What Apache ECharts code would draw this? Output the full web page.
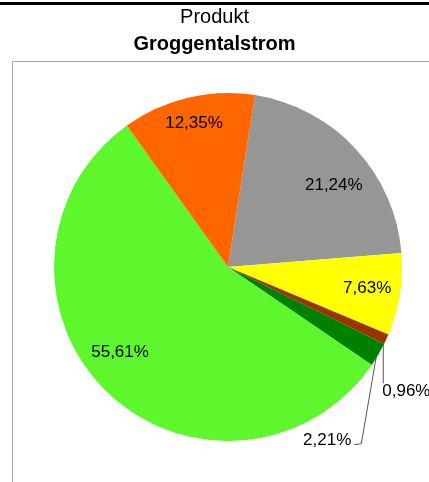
<!DOCTYPE html>
<html>
<head>
<meta charset="utf-8">
<script src="https://cdn.jsdelivr.net/npm/echarts@6/dist/echarts.min.js"></script>
<style>
html, body { margin: 0; padding: 0; background: #fff; }
#chart { width: 429px; height: 482px; }
</style>
</head>
<body>
<div id="chart"></div>
<script>
// Anteile (Prozent), im Uhrzeigersinn ab dem grauen Segment
var categories = ['Grau', 'Gelb', 'Braun', 'Dunkelgrün', 'Hellgrün', 'Orange'];
var values = [21.24, 7.63, 0.96, 2.21, 55.61, 12.35];
var colors = ['#969696', '#ffff00', '#993300', '#008000', '#5ef72e', '#ff6600'];
var outsideIdx = [2, 3];

var FONT = '"Liberation Sans", Arial, sans-serif';

function fmt(v) {
    return v.toFixed(2).replace('.', ',') + '%';
}

function initChart() {
    var chart = echarts.init(document.getElementById('chart'));

    // kleine Korrekturen der Innenbeschriftung (wie Excel "beste Position")
    var innerShift = { 0: [1, 16], 5: [-1, -5], 1: [-2, -1], 4: [-8, -17] };

    var option = {
        animation: false,
        title: [
            { text: 'Produkt', left: 'center', top: 7, padding: 0,
              textStyle: { fontFamily: FONT, fontSize: 20, fontWeight: 'normal', color: '#000', lineHeight: 20 } },
            { text: 'Groggentalstrom', left: 'center', top: 34, padding: 0,
              textStyle: { fontFamily: FONT, fontSize: 20, fontWeight: 'bold', color: '#000', lineHeight: 20 } }
        ],
        graphic: [
            { type: 'rect', z: 0, shape: { x: 0, y: 2, width: 429, height: 3 }, style: { fill: '#000' } },
            { type: 'rect', z: 0, shape: { x: 12.5, y: 61.5, width: 480, height: 480 },
              style: { fill: 'none', stroke: '#a6a6a6', lineWidth: 1 } }
        ],
        series: [
            {
                type: 'pie',
                center: [228, 267],
                radius: 174,
                startAngle: 81.1,
                clockwise: true,
                silent: true,
                avoidLabelOverlap: false,
                itemStyle: { borderWidth: 0 },
                label: {
                    show: true,
                    position: 'outside',
                    width: 60,
                    overflow: 'none',
                    fontFamily: FONT,
                    fontSize: 17,
                    color: '#000',
                    formatter: function (p) { return fmt(p.value); }
                },
                labelLine: { show: true, lineStyle: { color: '#555', width: 1 } },
                labelLayout: function (p) {
                    var a = p.labelLinePoints && p.labelLinePoints[0];
                    if (!a) return {};
                    if (p.dataIndex === 2) {
                        return {
                            x: a[0] - 4, y: a[1] + 52, align: 'left', verticalAlign: 'middle',
                            labelLinePoints: [[a[0] - 3, a[1] + 1], [a[0] - 3, a[1] + 44]]
                        };
                    }
                    if (p.dataIndex === 3) {
                        return {
                            x: a[0] - 27, y: a[1] + 86, align: 'right', verticalAlign: 'middle',
                            labelLinePoints: [[a[0] - 1, a[1] - 4], [a[0] - 17, a[1] + 89], [a[0] - 24, a[1] + 90]]
                        };
                    }
                    return {};
                },
                data: values.map(function (v, i) {
                    var small = outsideIdx.indexOf(i) >= 0;
                    return {
                        name: categories[i],
                        value: v,
                        itemStyle: { color: colors[i] },
                        label: { show: small },
                        labelLine: { show: small }
                    };
                })
            },
            {
                // nur Beschriftung innerhalb der großen Segmente
                type: 'pie',
                center: [228, 267],
                radius: [120, 160],
                startAngle: 81.1,
                clockwise: true,
                silent: true,
                itemStyle: { color: 'rgba(0,0,0,0)', borderWidth: 0 },
                label: {
                    show: true,
                    position: 'inside',
                    fontFamily: FONT,
                    fontSize: 17,
                    color: '#000',
                    formatter: function (p) { return fmt(p.value); }
                },
                labelLine: { show: false },
                labelLayout: function (p) {
                    var s = innerShift[p.dataIndex];
                    return s ? { dx: s[0], dy: s[1] } : {};
                },
                data: values.map(function (v, i) {
                    return {
                        name: categories[i],
                        value: v,
                        label: { show: outsideIdx.indexOf(i) < 0 }
                    };
                })
            }
        ]
    };
    chart.setOption(option);
}
initChart();
</script>
</body>
</html>
